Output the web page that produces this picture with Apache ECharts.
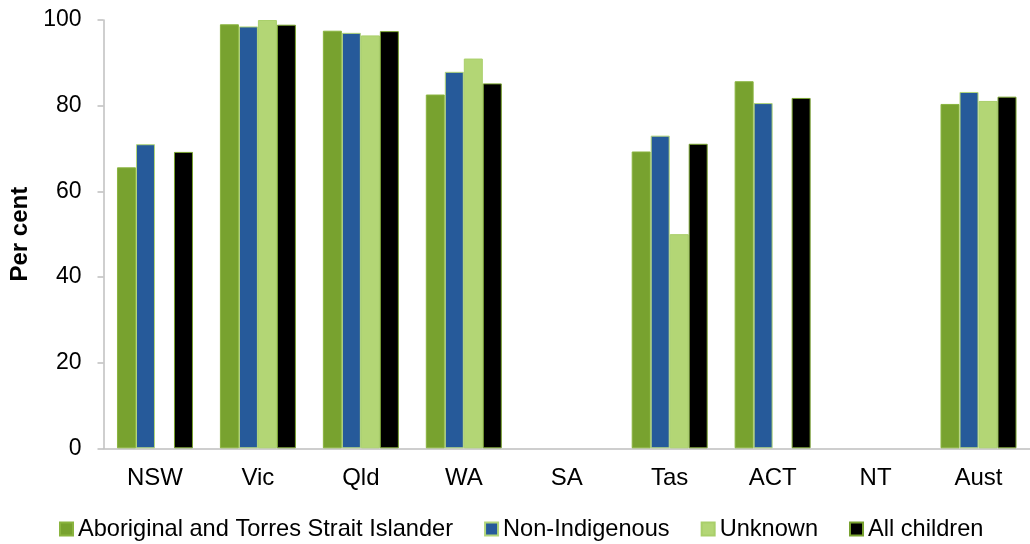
<!DOCTYPE html>
<html>
<head>
<meta charset="utf-8">
<title>Per cent by jurisdiction</title>
<script src="https://cdn.jsdelivr.net/npm/echarts@6/dist/echarts.min.js"></script>
<style>
  html, body { margin: 0; padding: 0; background: #ffffff; }
  #chart { width: 1030px; height: 544px; }
</style>
</head>
<body>
<div id="chart"></div>
<script>
// Jurisdictions along the x axis
const categories = ['NSW', 'Vic', 'Qld', 'WA', 'SA', 'Tas', 'ACT', 'NT', 'Aust'];

// Per cent values by group (null = not available)
const aboriginal    = [65.6, 99.0, 97.5, 82.6, null, 69.3, 85.7, null, 80.4];
const nonIndigenous = [71.0, 98.5, 97.0, 87.9, null, 73.0, 80.6, null, 83.2];
const unknown       = [null, 100.0, 96.4, 91.0, null, 50.0, null, null, 81.1];
const allChildren   = [69.2, 98.9, 97.4, 85.2, null, 71.1, 81.8, null, 82.1];

// Y axis ticks
const yTicks = [0, 20, 40, 60, 80, 100];

const FONT = '"Liberation Sans", Arial, sans-serif';
const AXIS_GREY = '#bfbfbf';

function barSeries(name, data, fill, border) {
  return {
    name: name,
    type: 'bar',
    data: data,
    barWidth: 19,
    barGap: '0%',
    itemStyle: { color: fill, borderColor: border, borderWidth: 1 }
  };
}

const chart = echarts.init(document.getElementById('chart'), null, { renderer: 'canvas' });

chart.setOption({
  animation: false,
  backgroundColor: '#ffffff',
  textStyle: { fontFamily: FONT, color: '#000' },
  grid: { left: 103.5, right: -9.5, top: 20, bottom: 95.7, containLabel: false },
  legend: {
    left: 54,
    top: 512,
    itemWidth: 13,
    itemHeight: 13,
    itemGap: 31,
    icon: 'rect',
    textStyle: { fontFamily: FONT, fontSize: 23.6, color: '#000' },
    data: ['Aboriginal and Torres Strait Islander', 'Non-Indigenous', 'Unknown', 'All children']
  },
  xAxis: {
    type: 'category',
    data: categories,
    axisLine: { show: true, lineStyle: { color: AXIS_GREY, width: 1.5 } },
    axisTick: { show: false },
    axisLabel: { fontFamily: FONT, fontSize: 24, color: '#000', margin: 18 },
    splitLine: { show: false }
  },
  yAxis: {
    type: 'value',
    min: yTicks[0],
    max: yTicks[yTicks.length - 1],
    interval: yTicks[1] - yTicks[0],
    name: 'Per cent',
    nameLocation: 'middle',
    nameGap: 68,
    nameTextStyle: { fontFamily: FONT, fontSize: 24, fontWeight: 'bold', color: '#000' },
    axisLine: { show: true, lineStyle: { color: AXIS_GREY, width: 1.5 } },
    axisTick: { show: true, inside: false, length: 6, lineStyle: { color: AXIS_GREY, width: 1.5 } },
    axisLabel: { fontFamily: FONT, fontSize: 23, color: '#000', margin: 22 },
    splitLine: { show: false }
  },
  series: [
    barSeries('Aboriginal and Torres Strait Islander', aboriginal, '#78a22f', '#8ab43f'),
    barSeries('Non-Indigenous', nonIndigenous, '#265a9a', '#b3d67a'),
    barSeries('Unknown', unknown, '#b3d675', '#a9cf6a'),
    barSeries('All children', allChildren, '#000000', '#78a22f')
  ]
});
</script>
</body>
</html>
